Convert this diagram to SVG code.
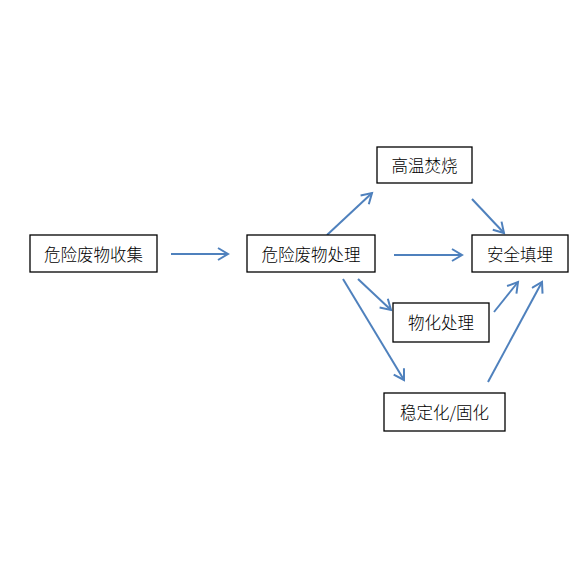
<svg xmlns="http://www.w3.org/2000/svg" width="579" height="579" viewBox="0 0 579 579">
<style>
.box{fill:#fff;stroke:#000;stroke-width:1.3}
.t{font-family:"Noto Sans CJK SC","Liberation Sans",sans-serif;font-size:16.5px;font-weight:300;fill:#000;text-anchor:middle;dominant-baseline:central}
.c{stroke:#4F81BD;stroke-width:2;fill:none}
</style>
<defs>
<marker id="ah" markerUnits="userSpaceOnUse" markerWidth="14" markerHeight="14" refX="11" refY="7" orient="auto">
<path d="M1,1 L11,7 L1,13" fill="none" stroke="#4F81BD" stroke-width="2"/>
</marker>
</defs>
<rect width="579" height="579" fill="#fff"/>
<g id="connectors">
<line class="c" x1="171" y1="254" x2="228" y2="254" marker-end="url(#ah)"/>
<line class="c" x1="327" y1="235" x2="372" y2="193" marker-end="url(#ah)"/>
<line class="c" x1="472" y1="199" x2="504" y2="233" marker-end="url(#ah)"/>
<line class="c" x1="394" y1="255" x2="462" y2="255" marker-end="url(#ah)"/>
<line class="c" x1="358" y1="279" x2="391" y2="310" marker-end="url(#ah)"/>
<line class="c" x1="343" y1="279" x2="404" y2="380" marker-end="url(#ah)"/>
<line class="c" x1="494" y1="312" x2="518" y2="282" marker-end="url(#ah)"/>
<line class="c" x1="488" y1="382" x2="542" y2="282" marker-end="url(#ah)"/>
</g>
<g id="collect"><rect class="box" x="30" y="235" width="127" height="37"/><text class="t" x="93.5" y="254">危险废物收集</text></g>
<g id="process"><rect class="box" x="247" y="235" width="128" height="37"/><text class="t" x="311" y="254">危险废物处理</text></g>
<g id="incinerate"><rect class="box" x="377" y="147" width="95" height="36"/><text class="t" x="424.5" y="165">高温焚烧</text></g>
<g id="landfill"><rect class="box" x="472" y="235" width="96" height="37"/><text class="t" x="520" y="254">安全填埋</text></g>
<g id="physchem"><rect class="box" x="393" y="303" width="96" height="39"/><text class="t" x="441" y="322">物化处理</text></g>
<g id="stabilize"><rect class="box" x="384" y="393" width="121" height="38"/><text class="t" x="444.5" y="412">稳定化/固化</text></g>
</svg>
